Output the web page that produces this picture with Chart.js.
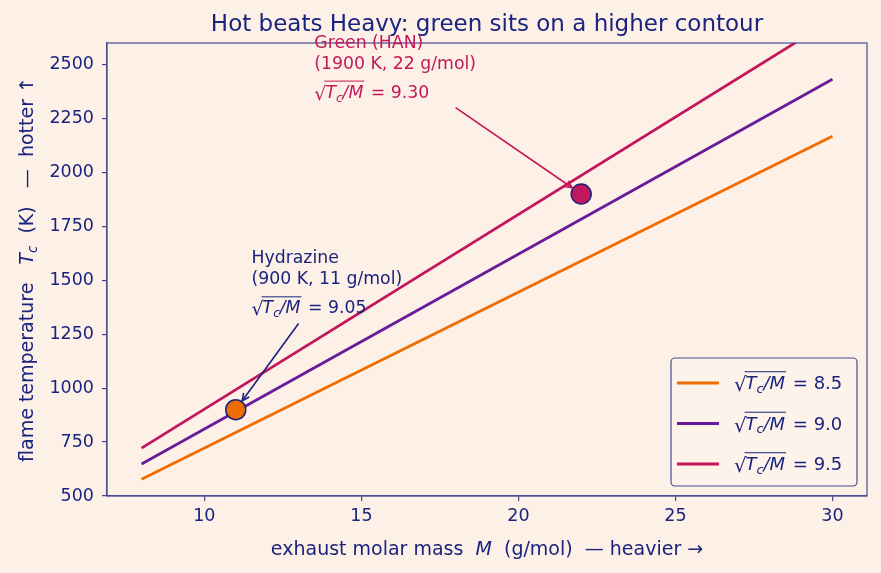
<!DOCTYPE html>
<html>
<head>
<meta charset="utf-8">
<script src="https://cdn.jsdelivr.net/npm/chart.js@4.4.1/dist/chart.umd.min.js"></script>
<style>
  html, body { margin: 0; padding: 0; background: #fdf1e7; }
  #grafico { display: block; }
</style>
</head>
<body>
<canvas id="grafico" width="881" height="573"></canvas>
<script>
// datos
const masaExtremos = [8, 30];            // g/mol
const linea85 = [578, 2168];             // sqrt(Tc/M) = 8.5
const linea90 = [648, 2432];             // sqrt(Tc/M) = 9.0
const linea95 = [722, 2708];             // sqrt(Tc/M) = 9.5
const etiquetasLineas = ['8.5', '9.0', '9.5'];
const coloresLineas = ['#ef6c00', '#6a1b9a', '#c2185b'];

const propelentes = ['Hydrazine', 'Green (HAN)'];
const masaProp = [11, 22];
const tempProp = [900, 1900];
const valorProp = ['9.05', '9.30'];
const coloresProp = ['#ef6c00', '#c2185b'];
// donde empieza cada flecha / texto (coordenadas de datos)
const textoProp = [[11.5, 1300], [13.5, 2300]];
const inicioFlecha = [[13, 1300], [18, 2300]];
const coloresTexto = ['#1a237e', '#c2185b'];

const ticksX = [10, 15, 20, 25, 30];
const ticksY = [500, 750, 1000, 1250, 1500, 1750, 2000, 2250, 2500];

const FONDO = '#fdf1e7';
const TINTA = '#1a237e';
const MARCO = '#474c8f';
const FUENTE = '"DejaVu Sans", sans-serif';

function puntos(xs, ys) {
    return xs.map((x, i) => ({ x, y: ys[i] }));
}

// dibuja trozos de texto con cursiva / subindice
function medirTrozos(ctx, trozos, size) {
    let w = 0;
    trozos.forEach(t => {
        const s = t.sub ? size * 0.7 : size;
        ctx.font = `${t.it ? 'italic ' : ''}${s}px ${FUENTE}`;
        w += ctx.measureText(t.t).width;
    });
    return w;
}
function dibujarTrozos(ctx, trozos, x, y, size) {
    let cx = x;
    trozos.forEach(t => {
        const s = t.sub ? size * 0.7 : size;
        ctx.font = `${t.it ? 'italic ' : ''}${s}px ${FUENTE}`;
        ctx.fillText(t.t, cx, t.sub ? y + size * 0.22 : y);
        cx += ctx.measureText(t.t).width;
    });
    return cx - x;
}
// √(Tc/M) = valor
function dibujarRaiz(ctx, x, y, size, valor) {
    ctx.textAlign = 'left';
    ctx.textBaseline = 'alphabetic';
    ctx.font = `${size * 1.1}px ${FUENTE}`;
    ctx.fillText('√', x, y + 2);
    const wr = ctx.measureText('√').width;
    const x0 = x + wr - 1;
    const w = dibujarTrozos(ctx, [
        { t: 'T', it: true }, { t: 'c', it: true, sub: true }, { t: '/M', it: true }
    ], x0, y, size);
    ctx.save();
    ctx.strokeStyle = ctx.fillStyle;
    ctx.lineWidth = 1;
    ctx.beginPath();
    ctx.moveTo(x0 - 1, y - size * 0.96);
    ctx.lineTo(x0 + w + 1, y - size * 0.96);
    ctx.stroke();
    ctx.restore();
    ctx.font = `${size}px ${FUENTE}`;
    ctx.fillText(' = ' + valor, x0 + w + 2, y);
}

function flecha(ctx, x1, y1, x2, y2, color) {
    const ang = Math.atan2(y2 - y1, x2 - x1);
    ctx.save();
    ctx.strokeStyle = color;
    ctx.lineWidth = 1.6;
    ctx.beginPath();
    ctx.moveTo(x1, y1);
    ctx.lineTo(x2, y2);
    ctx.stroke();
    const L = 8;
    ctx.beginPath();
    ctx.moveTo(x2 - L * Math.cos(ang - 0.45), y2 - L * Math.sin(ang - 0.45));
    ctx.lineTo(x2, y2);
    ctx.lineTo(x2 - L * Math.cos(ang + 0.45), y2 - L * Math.sin(ang + 0.45));
    ctx.stroke();
    ctx.restore();
}

const extras = {
    id: 'extras',
    beforeDraw(chart) {
        const ctx = chart.ctx;
        ctx.save();
        ctx.fillStyle = FONDO;
        ctx.fillRect(0, 0, chart.width, chart.height);
        ctx.restore();
    },
    afterDraw(chart) {
        const ctx = chart.ctx;
        const a = chart.chartArea;
        const sx = chart.scales.x, sy = chart.scales.y;
        ctx.save();

        // marco completo
        ctx.strokeStyle = MARCO;
        ctx.lineWidth = 1.2;
        ctx.strokeRect(a.left, a.top, a.right - a.left, a.bottom - a.top);

        // flechas y textos
        propelentes.forEach((nombre, i) => {
            const px = sx.getPixelForValue(masaProp[i]);
            const py = sy.getPixelForValue(tempProp[i]);
            const fx = sx.getPixelForValue(inicioFlecha[i][0]);
            const fy = sy.getPixelForValue(inicioFlecha[i][1]);
            const d = Math.hypot(px - fx, py - fy);
            const r = 11;
            flecha(ctx, fx, fy, px - (px - fx) * r / d, py - (py - fy) * r / d, coloresTexto[i]);

            const tx = sx.getPixelForValue(textoProp[i][0]);
            const ty = sy.getPixelForValue(textoProp[i][1]) - 10;
            ctx.fillStyle = coloresTexto[i];
            ctx.textAlign = 'left';
            ctx.textBaseline = 'alphabetic';
            ctx.font = `17.3px ${FUENTE}`;
            ctx.fillText(nombre, tx, ty - 50);
            ctx.fillText(`(${tempProp[i]} K, ${masaProp[i]} g/mol)`, tx, ty - 29);
            dibujarRaiz(ctx, tx, ty, 17.3, valorProp[i]);
        });

        // leyenda
        const lx = 671, ly = 358, lw = 186, lh = 128;
        ctx.beginPath();
        ctx.roundRect(lx, ly, lw, lh, 4);
        ctx.fillStyle = 'rgba(253,243,234,0.85)';
        ctx.fill();
        ctx.strokeStyle = MARCO;
        ctx.lineWidth = 1.2;
        ctx.stroke();
        etiquetasLineas.forEach((et, i) => {
            const yy = ly + 25 + i * 40.5;
            ctx.strokeStyle = coloresLineas[i];
            ctx.lineWidth = 2.8;
            ctx.beginPath();
            ctx.moveTo(lx + 6, yy);
            ctx.lineTo(lx + 48, yy);
            ctx.stroke();
            ctx.fillStyle = TINTA;
            dibujarRaiz(ctx, lx + 63, yy + 6, 18, et);
        });

        // titulo
        ctx.fillStyle = TINTA;
        ctx.font = `23px ${FUENTE}`;
        ctx.textAlign = 'center';
        ctx.textBaseline = 'alphabetic';
        ctx.fillText('Hot beats Heavy: green sits on a higher contour', (a.left + a.right) / 2, 31);

        // titulos de ejes
        ctx.textAlign = 'left';
        const tX = [{ t: 'exhaust molar mass  ' }, { t: 'M', it: true }, { t: '  (g/mol)  — heavier →' }];
        const wX = medirTrozos(ctx, tX, 19);
        dibujarTrozos(ctx, tX, (a.left + a.right) / 2 - wX / 2, 555, 19);

        const tY = [{ t: 'flame temperature   ' }, { t: 'T', it: true }, { t: 'c', it: true, sub: true }, { t: '  (K)   —  hotter ↑' }];
        const wY = medirTrozos(ctx, tY, 19);
        ctx.translate(33, (a.top + a.bottom) / 2);
        ctx.rotate(-Math.PI / 2);
        dibujarTrozos(ctx, tY, -wY / 2, 0, 19);
        ctx.restore();
    }
};

const datasetsLineas = [linea85, linea90, linea95].map((serie, i) => ({
    type: 'scatter',
    label: etiquetasLineas[i],
    data: puntos(masaExtremos, serie),
    showLine: true,
    borderColor: coloresLineas[i],
    borderWidth: 2.8,
    pointRadius: 0,
    order: 2
}));

const datasetProp = {
    type: 'scatter',
    label: 'propelentes',
    data: puntos(masaProp, tempProp),
    backgroundColor: coloresProp,
    borderColor: TINTA,
    borderWidth: 1.5,
    pointRadius: 10,
    pointHoverRadius: 10,
    order: 1
};

const ejeComun = {
    grid: { display: true, drawOnChartArea: false, drawTicks: true, tickLength: 5, color: MARCO, lineWidth: 1.2 },
    border: { display: true, color: MARCO, width: 1.2 },
    title: { display: false }
};

new Chart(document.getElementById('grafico'), {
    type: 'scatter',
    data: { datasets: [...datasetsLineas, datasetProp] },
    options: {
        responsive: false,
        devicePixelRatio: 1,
        animation: false,
        layout: { padding: { top: 43, right: 14, left: 0, bottom: 0 } },
        plugins: { legend: { display: false }, tooltip: { enabled: false }, title: { display: false } },
        scales: {
            x: {
                ...ejeComun,
                type: 'linear',
                min: 6.9,
                max: 31.1,
                afterBuildTicks: s => { s.ticks = ticksX.map(v => ({ value: v })); },
                afterFit: s => { s.height = 77; },
                ticks: { color: TINTA, font: { family: FUENTE, size: 17.5 }, padding: 5, maxRotation: 0, callback: v => String(v) }
            },
            y: {
                ...ejeComun,
                type: 'linear',
                min: 500,
                max: 2600,
                afterBuildTicks: s => { s.ticks = ticksY.map(v => ({ value: v })); },
                afterFit: s => { s.width = 107; },
                ticks: { color: TINTA, font: { family: FUENTE, size: 17.5 }, padding: 8, callback: v => String(v) }
            }
        }
    },
    plugins: [extras]
});
</script>
</body>
</html>
